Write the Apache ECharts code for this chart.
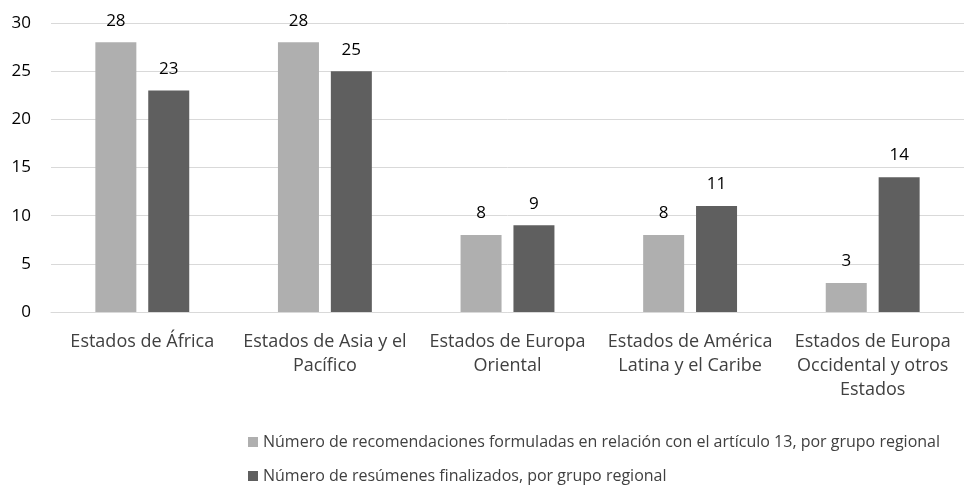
<!DOCTYPE html>
<html>
<head>
<meta charset="utf-8">
<script src="https://cdn.jsdelivr.net/npm/echarts@6/dist/echarts.min.js"></script>
<style>
  html, body { margin: 0; padding: 0; background: #fff; }
  #chart { width: 964px; height: 493px; }
</style>
</head>
<body>
<div id="chart"></div>
<script>
// datos
const categorias = [
    'Estados de África',
    'Estados de Asia y el\nPacífico',
    'Estados de Europa\nOriental',
    'Estados de América\nLatina y el Caribe',
    'Estados de Europa\nOccidental y otros\nEstados'
]
const recomendaciones = [28, 28, 8, 8, 3]
const resumenes = [23, 25, 9, 11, 14]
const nombreSerie1 = 'Número de recomendaciones formuladas en relación con el artículo 13, por grupo regional'
const nombreSerie2 = 'Número de resúmenes finalizados, por grupo regional'

const fuente = '"Open Sans", "Liberation Sans", sans-serif'
const textoColor = '#404040'

const myChart = echarts.init(document.querySelector('#chart'))
const option = {
    textStyle: { fontFamily: fuente },
    grid: {
        left: 51,
        right: 0,
        top: 23,
        bottom: 181,
        containLabel: false
    },
    legend: {
        orient: 'vertical',
        left: 243,
        top: 429,
        itemWidth: 10,
        itemHeight: 10,
        itemGap: 18,
        icon: 'rect',
        textStyle: { fontSize: 16, color: textoColor, fontFamily: fuente },
        data: [nombreSerie1, nombreSerie2]
    },
    xAxis: {
        type: 'category',
        data: categorias,
        axisLine: { show: true, lineStyle: { color: '#d9d9d9', width: 1 } },
        axisTick: { show: false },
        axisLabel: {
            interval: 0,
            fontSize: 18,
            color: textoColor,
            lineHeight: 24,
            margin: 18,
            fontFamily: fuente
        }
    },
    yAxis: {
        type: 'value',
        min: 0,
        max: 30,
        interval: 5,
        axisLine: { show: false },
        axisTick: { show: false },
        splitLine: { lineStyle: { color: '#d9d9d9', width: 1 } },
        axisLabel: { fontSize: 17, color: '#000', margin: 20, fontFamily: fuente }
    },
    series: [
        {
            name: nombreSerie1,
            type: 'bar',
            data: recomendaciones,
            barWidth: 41,
            barGap: '29%',
            itemStyle: { color: '#afafaf' },
            label: { show: true, position: 'top', fontSize: 17, color: '#000', distance: 13, fontFamily: fuente }
        },
        {
            name: nombreSerie2,
            type: 'bar',
            data: resumenes,
            barWidth: 41,
            itemStyle: { color: '#5f5f5f' },
            label: { show: true, position: 'top', fontSize: 17, color: '#000', distance: 13, fontFamily: fuente }
        }
    ]
}
myChart.setOption(option)
</script>
</body>
</html>
